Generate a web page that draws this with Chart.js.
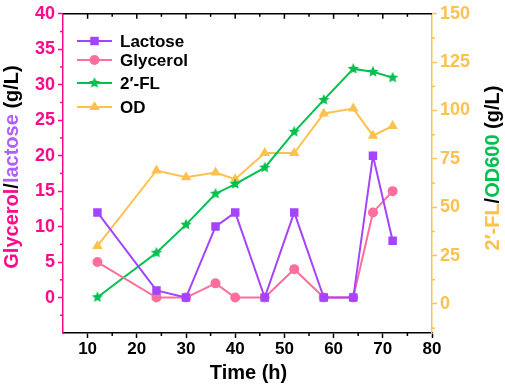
<!DOCTYPE html>
<html>
<head>
<meta charset="utf-8">
<script src="https://cdn.jsdelivr.net/npm/chart.js@4/dist/chart.umd.min.js"></script>
<style>
  html, body { margin: 0; padding: 0; background: #fff; }
  #wrap { width: 505px; height: 388px; position: relative; }
</style>
</head>
<body>
<div id="wrap"><canvas id="chart1"></canvas></div>
<script>
const timeH = [12, 24, 30, 36, 40, 46, 52, 58, 64, 68, 72]
const lactose = [12, 1, 0, 10, 12, 0, 12, 0, 0, 20, 8]
const glycerol = [5, 0, 0, 2, 0, 0, 4, 0, 0, 12, 15]
const fl2 = [3.5, 26.5, 41, 57, 62, 70.5, 89, 105.5, 121.5, 120, 117]
const od = [30, 69, 65.5, 68, 64.5, 78, 78, 98.5, 101, 87, 92]

const xTicks = [10, 20, 30, 40, 50, 60, 70, 80]
const leftTicks = [0, 5, 10, 15, 20, 25, 30, 35, 40]
const rightTicks = [0, 25, 50, 75, 100, 125, 150]

const PURPLE = '#a444ff'
const PINK = '#ff6f9c'
const GREEN = '#00c04f'
const ORANGE = '#ffc14d'
const MAGENTA = '#ff0a8c'
const FONT = '"Liberation Sans", Arial, Helvetica, sans-serif'

// filled five point star for the 2'-FL points
function makeStar(r, color) {
    const c = document.createElement('canvas')
    c.width = r * 2 + 2
    c.height = r * 2 + 2
    const g = c.getContext('2d')
    g.fillStyle = color
    g.beginPath()
    for (let i = 0; i < 10; i++) {
        const rad = i % 2 === 0 ? r : r * 0.45
        const a = -Math.PI / 2 + i * Math.PI / 5
        const px = r + 1 + rad * Math.cos(a)
        const py = r + 1 + rad * Math.sin(a)
        if (i === 0) g.moveTo(px, py)
        else g.lineTo(px, py)
    }
    g.closePath()
    g.fill()
    return c
}
const starImg = makeStar(6, GREEN)

const pts = arr => timeH.map((t, i) => ({ x: t, y: arr[i] }))

const datasets = [
    { label: 'Lactose', data: pts(lactose), yAxisID: 'y', borderColor: PURPLE, backgroundColor: PURPLE,
      pointStyle: 'rect', pointRadius: 6, pointBorderWidth: 0 },
    { label: 'Glycerol', data: pts(glycerol), yAxisID: 'y', borderColor: PINK, backgroundColor: PINK,
      pointStyle: 'circle', pointRadius: 5, pointBorderWidth: 0 },
    { label: '2\u2032-FL', data: pts(fl2), yAxisID: 'y2', borderColor: GREEN, backgroundColor: GREEN,
      pointStyle: starImg, pointRadius: 6, pointBorderWidth: 0 },
    { label: 'OD', data: pts(od), yAxisID: 'y2', borderColor: ORANGE, backgroundColor: ORANGE,
      pointStyle: 'triangle', pointRadius: 6, pointBorderWidth: 0 }
]
datasets.forEach(d => { d.borderWidth = 2; d.tension = 0; d.fill = false })

// minor ticks, top frame, in-plot legend and the coloured axis titles
const decorPlugin = {
    id: 'decor',
    afterDraw(chart) {
        const { ctx, chartArea, scales } = chart
        const { left, right, top, bottom } = chartArea
        ctx.save()

        // top frame with inward ticks
        ctx.strokeStyle = '#000'
        ctx.lineWidth = 1.5
        ctx.beginPath()
        ctx.moveTo(left, top)
        ctx.lineTo(right, top)
        ctx.stroke()
        for (let v = 10; v <= 75; v += 5) {
            const px = scales.x.getPixelForValue(v)
            const len = v % 10 === 0 ? 5 : 3
            ctx.beginPath()
            ctx.moveTo(px, top)
            ctx.lineTo(px, top + len)
            ctx.stroke()
            if (v % 10 !== 0) {
                ctx.beginPath()
                ctx.moveTo(px, bottom)
                ctx.lineTo(px, bottom + 3)
                ctx.stroke()
            }
        }

        // minor ticks on the left axis
        ctx.strokeStyle = MAGENTA
        for (let v = -2.5; v < 40; v += 5) {
            const py = scales.y.getPixelForValue(v)
            ctx.beginPath()
            ctx.moveTo(left, py)
            ctx.lineTo(left - 3, py)
            ctx.stroke()
        }
        // minor ticks on the right axis
        ctx.strokeStyle = ORANGE
        for (let v = -12.5; v < 150; v += 25) {
            const py = scales.y2.getPixelForValue(v)
            ctx.beginPath()
            ctx.moveTo(right, py)
            ctx.lineTo(right + 3, py)
            ctx.stroke()
        }

        // legend inside the plot
        const rows = [41, 60, 83, 107]
        chart.data.datasets.forEach((ds, i) => {
            const y = rows[i]
            ctx.strokeStyle = ds.borderColor
            ctx.fillStyle = ds.backgroundColor
            ctx.lineWidth = 2
            ctx.beginPath()
            ctx.moveTo(77, y)
            ctx.lineTo(112, y)
            ctx.stroke()
            Chart.helpers.drawPoint(ctx, {
                pointStyle: ds.pointStyle, rotation: 0, radius: ds.pointRadius, borderWidth: 0
            }, 94.5, y)
            ctx.fillStyle = '#000'
            ctx.font = 'bold 17px ' + FONT
            ctx.textBaseline = 'middle'
            ctx.textAlign = 'left'
            ctx.fillText(ds.label, 120, y + 1)
        })

        // coloured rotated titles
        const drawTitle = (parts, cx, cy) => {
            ctx.save()
            ctx.translate(cx, cy)
            ctx.rotate(-Math.PI / 2)
            ctx.font = 'bold 20px ' + FONT
            ctx.textBaseline = 'middle'
            ctx.textAlign = 'left'
            const total = parts.reduce((s, p) => s + ctx.measureText(p[0]).width, 0)
            let x = -total / 2
            parts.forEach(p => {
                ctx.fillStyle = p[1]
                ctx.fillText(p[0], x, 0)
                x += ctx.measureText(p[0]).width
            })
            ctx.restore()
        }
        drawTitle([['Glycerol', MAGENTA], ['/', '#000'], ['lactose', '#b060ff'], [' (g/L)', '#000']], 12, 167)
        drawTitle([['2\u2032-FL', ORANGE], ['/', '#000'], ['OD600', GREEN], [' (g/L)', '#000']], 493, 168)

        // x title
        ctx.fillStyle = '#000'
        ctx.font = 'bold 20px ' + FONT
        ctx.textAlign = 'center'
        ctx.textBaseline = 'middle'
        ctx.fillText('Time (h)', (left + right) / 2 + 1, 373)

        ctx.restore()
    }
}

const chart1 = new Chart(
    document.getElementById('chart1'),
    {
        type: 'line',
        data: { datasets: datasets },
        plugins: [decorPlugin],
        options: {
            responsive: true,
            maintainAspectRatio: false,
            animation: false,
            layout: { padding: { top: 11, left: 0, right: 0, bottom: 0 } },
            plugins: {
                legend: { display: false },
                tooltip: { enabled: false }
            },
            scales: {
                x: {
                    type: 'linear',
                    min: 5,
                    max: 80,
                    afterBuildTicks: s => { s.ticks = xTicks.map(v => ({ value: v })) },
                    afterFit: s => { s.height = 55 },
                    grid: { drawOnChartArea: false, tickLength: 5, tickColor: '#000', tickWidth: 1.5 },
                    border: { color: '#000', width: 1.5 },
                    ticks: { color: '#000', font: { family: FONT, size: 17, weight: 'bold' }, padding: 1, maxRotation: 0 }
                },
                y: {
                    position: 'left',
                    min: -5,
                    max: 40,
                    afterBuildTicks: s => { s.ticks = leftTicks.map(v => ({ value: v })) },
                    afterFit: s => { s.width = 63 },
                    grid: { drawOnChartArea: false, tickLength: 5, tickColor: MAGENTA, tickWidth: 1.5 },
                    border: { color: MAGENTA, width: 1.5 },
                    ticks: { color: MAGENTA, font: { family: FONT, size: 18, weight: 'bold' }, padding: 3 }
                },
                y2: {
                    position: 'right',
                    min: -15,
                    max: 150,
                    afterBuildTicks: s => { s.ticks = rightTicks.map(v => ({ value: v })) },
                    afterFit: s => { s.width = 73 },
                    grid: { drawOnChartArea: false, tickLength: 5, tickColor: ORANGE, tickWidth: 1.5 },
                    border: { color: ORANGE, width: 1.5 },
                    ticks: { color: ORANGE, font: { family: FONT, size: 18, weight: 'bold' }, padding: 3 }
                }
            }
        }
    }
)
</script>
</body>
</html>
